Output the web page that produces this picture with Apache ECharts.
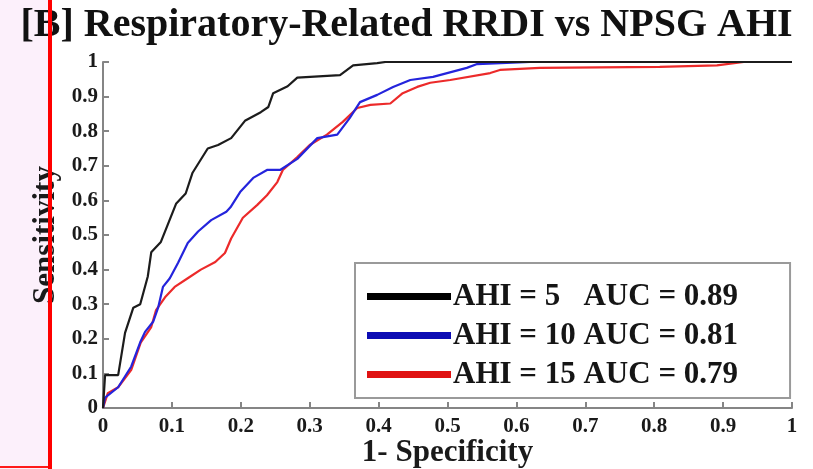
<!DOCTYPE html>
<html>
<head>
<meta charset="utf-8">
<script src="https://cdn.jsdelivr.net/npm/echarts@6/dist/echarts.min.js"></script>
<style>
  html, body { margin: 0; padding: 0; background: #ffffff; }
  #chart { width: 813px; height: 469px; }
</style>
</head>
<body>
<div id="chart"></div>
<script>
// ROC curves: false positive rate (1 - specificity) vs sensitivity
const ahi5Fpr = [0, 0.003, 0.022, 0.032, 0.044, 0.054, 0.065, 0.07, 0.084, 0.094, 0.106, 0.12, 0.13, 0.152, 0.167, 0.186, 0.206, 0.229, 0.24, 0.247, 0.268, 0.282, 0.344, 0.363, 0.398, 0.41, 1];
const ahi5Tpr = [0, 0.095, 0.095, 0.217, 0.29, 0.3, 0.38, 0.45, 0.48, 0.53, 0.59, 0.62, 0.68, 0.75, 0.76, 0.78, 0.83, 0.855, 0.87, 0.91, 0.93, 0.955, 0.962, 0.99, 0.997, 1, 1];

const ahi10Fpr = [0, 0.003, 0.022, 0.041, 0.054, 0.061, 0.073, 0.08, 0.087, 0.097, 0.109, 0.123, 0.138, 0.157, 0.179, 0.185, 0.199, 0.218, 0.238, 0.257, 0.282, 0.311, 0.34, 0.358, 0.373, 0.398, 0.421, 0.446, 0.479, 0.528, 0.543, 0.62, 1];
const ahi10Tpr = [0, 0.03, 0.06, 0.12, 0.19, 0.22, 0.25, 0.29, 0.35, 0.375, 0.42, 0.477, 0.51, 0.543, 0.567, 0.58, 0.624, 0.665, 0.688, 0.688, 0.72, 0.78, 0.79, 0.838, 0.884, 0.905, 0.928, 0.948, 0.957, 0.983, 0.994, 1, 1];

const ahi15Fpr = [0, 0.007, 0.022, 0.041, 0.055, 0.07, 0.077, 0.09, 0.104, 0.123, 0.142, 0.163, 0.177, 0.186, 0.203, 0.224, 0.238, 0.253, 0.261, 0.282, 0.3, 0.325, 0.348, 0.369, 0.388, 0.417, 0.435, 0.456, 0.475, 0.504, 0.562, 0.576, 0.634, 0.808, 0.891, 0.93, 1];
const ahi15Tpr = [0, 0.043, 0.06, 0.11, 0.19, 0.234, 0.283, 0.32, 0.35, 0.375, 0.4, 0.422, 0.448, 0.49, 0.55, 0.587, 0.615, 0.653, 0.688, 0.725, 0.76, 0.79, 0.827, 0.867, 0.876, 0.88, 0.91, 0.928, 0.94, 0.948, 0.968, 0.977, 0.983, 0.986, 0.99, 1, 1];

const seriesNames = ['AHI = 5   AUC = 0.89', 'AHI = 10 AUC = 0.81', 'AHI = 15 AUC = 0.79'];
const lineColors = ['#1c1c1c', '#2424dc', '#ec2a2a'];
const legendColors = ['#000000', '#0c0cb4', '#e01212'];

const serif = '"Liberation Serif", "Times New Roman", serif';

function pairs(xs, ys) {
  return xs.map((x, i) => [x, ys[i]]);
}

const curves = [pairs(ahi5Fpr, ahi5Tpr), pairs(ahi10Fpr, ahi10Tpr), pairs(ahi15Fpr, ahi15Tpr)];

const axisCommon = {
  type: 'value',
  min: 0,
  max: 1,
  interval: 0.1,
  nameLocation: 'middle',
  nameMoveOverlap: false,
  nameTextStyle: { fontFamily: serif, fontWeight: 'bold', fontSize: 31, color: '#1a1a1a' },
  axisLine: { show: true, onZero: false, lineStyle: { color: '#858585', width: 2 } },
  axisTick: { show: true, inside: true, length: 6, lineStyle: { color: '#858585', width: 2 } },
  splitLine: { show: false },
  axisLabel: {
    fontFamily: serif, fontWeight: 'bold', fontSize: 21, color: '#1a1a1a',
    formatter: v => String(+v.toFixed(1))
  }
};

const chart = echarts.init(document.getElementById('chart'), null, { renderer: 'canvas' });

chart.setOption({
  animation: false,
  backgroundColor: '#ffffff',
  title: {
    text: '[B] Respiratory-Related RRDI vs NPSG AHI',
    left: 'center',
    top: 2,
    padding: [4, 0, 0, 8],
    textStyle: { fontFamily: serif, fontWeight: 'bold', fontSize: 40, color: '#111111' }
  },
  grid: { left: 103, right: 21, top: 62, bottom: 61, containLabel: false, outerBoundsMode: 'none' },
  xAxis: Object.assign({}, axisCommon, {
    name: '1- Specificity',
    nameGap: 29,
    axisLabel: Object.assign({}, axisCommon.axisLabel, { margin: 8 })
  }),
  yAxis: Object.assign({}, axisCommon, {
    name: 'Sensitivity',
    nameGap: 42,
    axisLabel: Object.assign({}, axisCommon.axisLabel, { margin: 5 })
  }),
  legend: {
    orient: 'vertical',
    left: 355,
    top: 263,
    padding: [18, 52, 8, 12],
    itemGap: 8,
    itemWidth: 84,
    itemHeight: 7,
    icon: 'rect',
    backgroundColor: '#ffffff',
    borderColor: '#9a9a9a',
    borderWidth: 2,
    borderRadius: 0,
    textStyle: { fontFamily: serif, fontWeight: 'bold', fontSize: 31, color: '#151515', padding: [0, 0, 0, -3] },
    data: seriesNames.map((n, i) => ({ name: n, itemStyle: { color: legendColors[i] } }))
  },
  series: curves.map((d, i) => ({
    name: seriesNames[i],
    type: 'line',
    data: d,
    showSymbol: false,
    symbol: 'none',
    lineStyle: { color: lineColors[i], width: 2.2 },
    itemStyle: { color: lineColors[i] },
    z: 3 - i
  })),
  graphic: [
    { type: 'rect', z: -10, shape: { x: 0, y: 0, width: 49, height: 469 }, style: { fill: '#fcf0fb' } },
    { type: 'rect', z: 100, shape: { x: 0, y: 466, width: 49, height: 2 }, style: { fill: '#ff1a1a' } },
    { type: 'rect', z: 100, shape: { x: 48, y: 0, width: 4, height: 469 }, style: { fill: '#ff0000' } }
  ]
});
</script>
</body>
</html>
